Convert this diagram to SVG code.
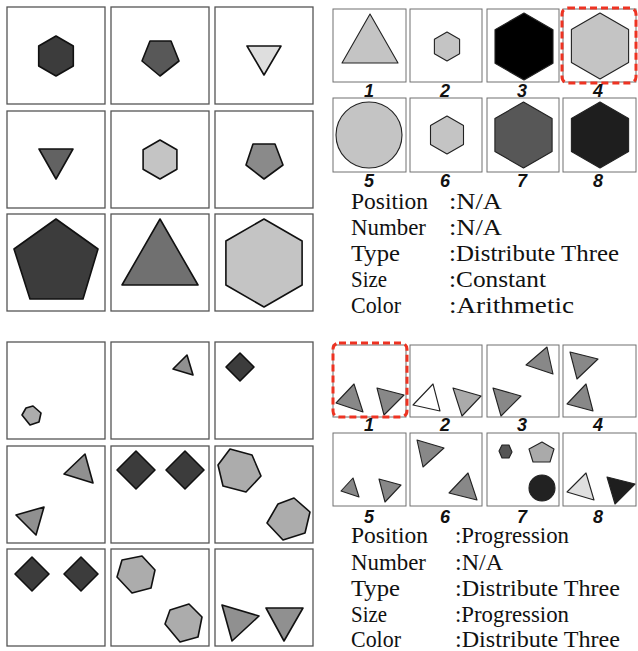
<svg xmlns="http://www.w3.org/2000/svg" width="638" height="651" viewBox="0 0 638 651">
<style>
.cell{fill:#fff;stroke:#555;stroke-width:1.3}
.opt{fill:#fff;stroke:#707070;stroke-width:1}
.s{stroke:#111;stroke-width:1.6;stroke-linejoin:round}
.so{stroke:#222;stroke-width:1.1;stroke-linejoin:round}
.sel{fill:none;stroke:#ee3322;stroke-width:3;stroke-dasharray:7 4}
.num{font-family:"Liberation Sans",Arial,sans-serif;font-weight:bold;font-style:italic;font-size:18px;fill:#111;text-anchor:middle}
.t{font-family:"Liberation Serif","Times New Roman",serif;font-size:23px;fill:#111}
</style>
<rect width="638" height="651" fill="#fff"/>

<!-- Top-left grid -->
<g id="p1-grid">
<rect class="cell" x="7" y="7" width="98" height="97"/>
<rect class="cell" x="111" y="7" width="98" height="97"/>
<rect class="cell" x="215" y="7" width="98" height="97"/>
<rect class="cell" x="7" y="111" width="98" height="97"/>
<rect class="cell" x="111" y="111" width="98" height="97"/>
<rect class="cell" x="215" y="111" width="98" height="97"/>
<rect class="cell" x="7" y="214" width="98" height="97"/>
<rect class="cell" x="111" y="214" width="98" height="97"/>
<rect class="cell" x="215" y="214" width="98" height="97"/>
<polygon class="s" fill="#3c3c3c" points="56,36 73.3,46 73.3,66 56,76 38.7,66 38.7,46"/>
<polygon class="s" fill="#585858" points="150,41 171,41 179,61 160,76 142,61"/>
<polygon class="s" fill="#dedede" points="247,46 281,46 264,75"/>
<polygon class="s" fill="#626262" points="39,149 73,149 56,179"/>
<polygon class="s" fill="#c4c4c4" points="160,140 176.9,149.75 176.9,169.25 160,179 143.1,169.25 143.1,149.75"/>
<polygon class="s" fill="#8a8a8a" points="253,144 275,144 283,165 264,179 246,165"/>
<polygon class="s" fill="#3c3c3c" points="56,219 98,249 83,299 30,299 14,249"/>
<polygon class="s" fill="#707070" points="160,219 198,285 122,285"/>
<polygon class="s" fill="#c4c4c4" points="264,219 302.1,241 302.1,285 264,307 225.9,285 225.9,241"/>
</g>

<!-- Top-right options -->
<g id="p1-options">
<rect class="opt" x="333" y="9" width="73" height="73"/>
<rect class="opt" x="410" y="9" width="72" height="73"/>
<rect class="opt" x="487" y="9" width="72" height="73"/>
<rect class="opt" x="563" y="9" width="73" height="73"/>
<rect class="opt" x="333" y="98" width="73" height="74"/>
<rect class="opt" x="410" y="98" width="72" height="74"/>
<rect class="opt" x="487" y="98" width="72" height="74"/>
<rect class="opt" x="563" y="98" width="73" height="74"/>
<polygon class="so" fill="#c4c4c4" points="370,14 398,63 342,63"/>
<polygon class="so" fill="#c4c4c4" points="447,32 459.6,39.25 459.6,53.75 447,61 434.4,53.75 434.4,39.25"/>
<polygon class="so" fill="#000" points="524,13 553,29.75 553,63.25 524,80 495,63.25 495,29.75"/>
<polygon class="so" fill="#c4c4c4" points="600,13 628.6,29.5 628.6,62.5 600,79 571.4,62.5 571.4,29.5"/>
<rect class="sel" x="562" y="8" width="74" height="75" rx="6"/>
<circle class="so" fill="#c4c4c4" cx="369" cy="135" r="33"/>
<polygon class="so" fill="#c4c4c4" points="447,116 463.5,125.5 463.5,144.5 447,154 430.5,144.5 430.5,125.5"/>
<polygon class="so" fill="#575757" points="523.5,102 552.1,118.5 552.1,151.5 523.5,168 494.9,151.5 494.9,118.5"/>
<polygon class="so" fill="#1e1e1e" points="600,102 628.6,118.5 628.6,151.5 600,168 571.4,151.5 571.4,118.5"/>
<text class="num" x="369" y="97">1</text>
<text class="num" x="445" y="97">2</text>
<text class="num" x="522" y="97">3</text>
<text class="num" x="598" y="97">4</text>
<text class="num" x="369" y="187">5</text>
<text class="num" x="445" y="187">6</text>
<text class="num" x="522" y="187">7</text>
<text class="num" x="598" y="187">8</text>
</g>

<g id="p1-rules">
<text class="t" x="351" y="209" textLength="77" lengthAdjust="spacingAndGlyphs">Position</text>
<text class="t" x="449" y="209" textLength="53" lengthAdjust="spacingAndGlyphs">:N/A</text>
<text class="t" x="351" y="235" textLength="75" lengthAdjust="spacingAndGlyphs">Number</text>
<text class="t" x="449" y="235" textLength="53" lengthAdjust="spacingAndGlyphs">:N/A</text>
<text class="t" x="351" y="261" textLength="49" lengthAdjust="spacingAndGlyphs">Type</text>
<text class="t" x="449" y="261" textLength="170" lengthAdjust="spacingAndGlyphs">:Distribute Three</text>
<text class="t" x="351" y="287" textLength="36" lengthAdjust="spacingAndGlyphs">Size</text>
<text class="t" x="449" y="287" textLength="97" lengthAdjust="spacingAndGlyphs">:Constant</text>
<text class="t" x="351" y="313" textLength="50" lengthAdjust="spacingAndGlyphs">Color</text>
<text class="t" x="449" y="313" textLength="125" lengthAdjust="spacingAndGlyphs">:Arithmetic</text>
</g>

<!-- Bottom-left grid -->
<g id="p2-grid">
<rect class="cell" x="7" y="342" width="98" height="97"/>
<rect class="cell" x="111" y="342" width="98" height="97"/>
<rect class="cell" x="215" y="342" width="98" height="97"/>
<rect class="cell" x="7" y="446" width="98" height="97"/>
<rect class="cell" x="111" y="446" width="98" height="97"/>
<rect class="cell" x="215" y="446" width="98" height="97"/>
<rect class="cell" x="7" y="549" width="98" height="97"/>
<rect class="cell" x="111" y="549" width="98" height="97"/>
<rect class="cell" x="215" y="549" width="98" height="97"/>
<polygon class="s" fill="#acacac" points="22,415 26,408 33,406 41,413 39,422 30,425"/>
<polygon class="s" fill="#909090" points="173,369 187,355 193,375"/>
<polygon class="s" fill="#3c3c3c" points="240,353 254,367 240,381 226,367"/>
<polygon class="s" fill="#909090" points="64,474 85,454 93,483"/>
<polygon class="s" fill="#909090" points="16,515 44,507 36,535"/>
<polygon class="s" fill="#3c3c3c" points="136,451 155,470 136,489 117,470"/>
<polygon class="s" fill="#3c3c3c" points="185,451 204,470 185,489 166,470"/>
<polygon class="s" fill="#acacac" points="218,465 230,449 252,455 261,476 246,492 223,486"/>
<polygon class="s" fill="#acacac" points="267,523 278,504 294,498 310,512 305,533 283,540"/>
<polygon class="s" fill="#3c3c3c" points="32,557 49,574 32,591 15,574"/>
<polygon class="s" fill="#3c3c3c" points="81,557 98,574 81,591 64,574"/>
<polygon class="s" fill="#acacac" points="117,577 122,560 142,556 155,570 151,588 132,593"/>
<polygon class="s" fill="#acacac" points="165,624 170,610 189,604 202,617 198,637 180,642"/>
<polygon class="s" fill="#909090" points="222,605 259,616 232,641"/>
<polygon class="s" fill="#909090" points="266,608 303,608 284,641"/>
</g>

<!-- Bottom-right options -->
<g id="p2-options">
<rect class="opt" x="333" y="345" width="73" height="72"/>
<rect class="opt" x="410" y="345" width="72" height="72"/>
<rect class="opt" x="487" y="345" width="72" height="72"/>
<rect class="opt" x="563" y="345" width="73" height="72"/>
<rect class="opt" x="333" y="433" width="73" height="73"/>
<rect class="opt" x="410" y="433" width="72" height="73"/>
<rect class="opt" x="487" y="433" width="72" height="73"/>
<rect class="opt" x="563" y="433" width="73" height="73"/>
<polygon class="so" fill="#888" points="336,403 354,384 363,412"/>
<polygon class="so" fill="#888" points="377,388 404,395 384,415"/>
<rect class="sel" x="333" y="343" width="74" height="74" rx="6"/>
<polygon class="so" fill="#fff" points="413,405 433,384 440,411"/>
<polygon class="so" fill="#aaa" points="453,388 481,396 462,416"/>
<polygon class="so" fill="#888" points="526,365 547,347 553,374"/>
<polygon class="so" fill="#888" points="493,388 521,396 501,416"/>
<polygon class="so" fill="#888" points="570,352 598,359 577,379"/>
<polygon class="so" fill="#888" points="567,404 586,384 593,411"/>
<polygon class="so" fill="#888" points="341,491 353,478 359,497"/>
<polygon class="so" fill="#888" points="379,479 401,485 385,502"/>
<polygon class="so" fill="#888" points="417,440 444,448 423,467"/>
<polygon class="so" fill="#888" points="449,493 468,473 477,500"/>
<polygon class="so" fill="#555" points="499,451 502,445 509,445 512,452 509,458 502,458"/>
<polygon class="so" fill="#aaa" points="542,442 554,449 550,462 533,462 529,449"/>
<circle class="so" fill="#222" cx="542" cy="488" r="13"/>
<polygon class="so" fill="#e0e0e0" points="567,492 586,473 594,500"/>
<polygon class="so" fill="#1e1e1e" points="607,477 635,484 615,504"/>
<text class="num" x="369" y="431">1</text>
<text class="num" x="445" y="431">2</text>
<text class="num" x="522" y="431">3</text>
<text class="num" x="598" y="431">4</text>
<text class="num" x="369" y="523">5</text>
<text class="num" x="445" y="523">6</text>
<text class="num" x="522" y="523">7</text>
<text class="num" x="598" y="523">8</text>
</g>

<g id="p2-rules">
<text class="t" x="351" y="543" textLength="77" lengthAdjust="spacingAndGlyphs">Position</text>
<text class="t" x="455" y="543" textLength="114" lengthAdjust="spacingAndGlyphs">:Progression</text>
<text class="t" x="351" y="570" textLength="75" lengthAdjust="spacingAndGlyphs">Number</text>
<text class="t" x="455" y="570" textLength="48" lengthAdjust="spacingAndGlyphs">:N/A</text>
<text class="t" x="351" y="596" textLength="49" lengthAdjust="spacingAndGlyphs">Type</text>
<text class="t" x="455" y="596" textLength="165" lengthAdjust="spacingAndGlyphs">:Distribute Three</text>
<text class="t" x="351" y="622" textLength="36" lengthAdjust="spacingAndGlyphs">Size</text>
<text class="t" x="455" y="622" textLength="114" lengthAdjust="spacingAndGlyphs">:Progression</text>
<text class="t" x="351" y="647" textLength="50" lengthAdjust="spacingAndGlyphs">Color</text>
<text class="t" x="455" y="647" textLength="165" lengthAdjust="spacingAndGlyphs">:Distribute Three</text>
</g>
</svg>
